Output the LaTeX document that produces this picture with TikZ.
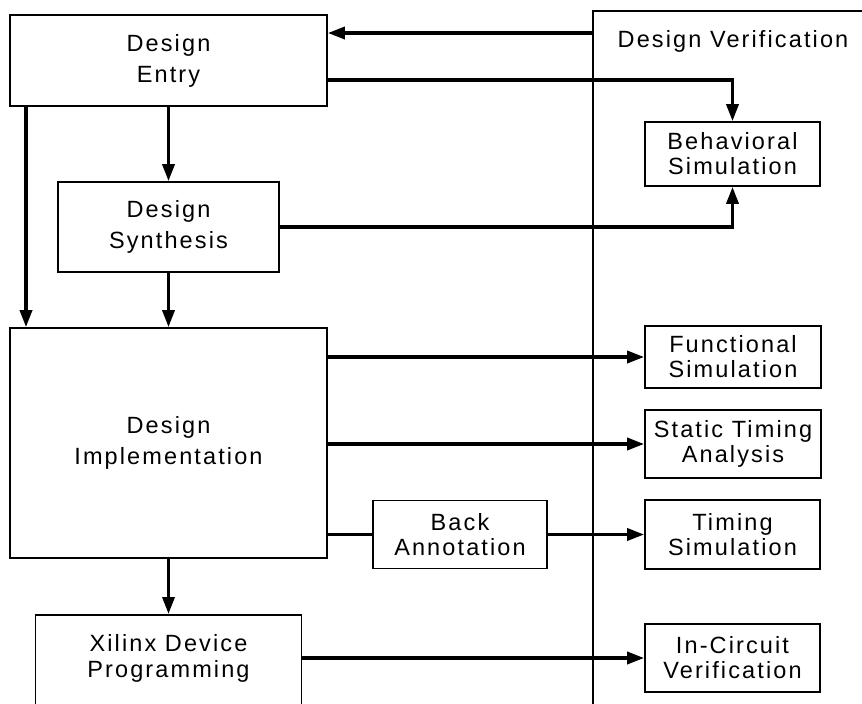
\documentclass[tikz,border=0pt]{standalone}
\usepackage{fontspec}
\setmainfont{Liberation Sans}[LetterSpace=9]
\usetikzlibrary{arrows.meta}
\begin{document}
\begin{tikzpicture}[x=1pt,y=-1pt,
  box/.style={draw, line width=1.7pt, inner sep=0pt, align=center, font=\fontsize{23.5}{25}\selectfont},
  bigbox/.style={box, font=\fontsize{23.5}{31}\selectfont},
  lbl/.style={inner sep=0pt, align=center, font=\fontsize{23.5}{26}\selectfont},
  arr/.style={line width=3.4pt, -{Triangle[length=17pt,width=12pt]}},
  ln/.style={line width=3.4pt}]
\useasboundingbox (0,0) rectangle (862,704);
% Design verification region
\node[draw, line width=1.6pt, minimum width=400, minimum height=800, anchor=north west] (dv) at (592,10) {};
\node[lbl] (dvlabel) at (733,41) {Design Verification};
% left column
\node[bigbox, minimum width=317, minimum height=91] (entry) at (168.5,60.5) {Design\\Entry};
\node[bigbox, minimum width=221, minimum height=90] (synth) at (168.5,227) {Design\\Synthesis};
\node[bigbox, minimum width=317, minimum height=230] (impl) at (168.5,443) {Design\\Implementation};
\node[box, minimum width=266, minimum height=150, anchor=north] (xilinx) at (168.5,614) {};
\node[lbl] (xilinxtext) at (168.5,658) {Xilinx Device\\Programming};
\node[box, minimum width=174, minimum height=68] (back) at (460,534.5) {Back\\Annotation};
% right column
\node[box, minimum width=175, minimum height=64] (behav) at (732.5,154) {Behavioral\\Simulation};
\node[box, minimum width=176, minimum height=62] (func) at (733,357) {Functional\\Simulation};
\node[box, minimum width=176, minimum height=68] (sta) at (733,444) {Static Timing\\Analysis};
\node[box, minimum width=175, minimum height=69] (timing) at (732.5,534.5) {Timing\\Simulation};
\node[box, minimum width=175, minimum height=68] (incirc) at (732.5,658) {In-Circuit\\Verification};
% helper coordinates
\coordinate (dvin) at (592,33);
\coordinate (y80) at (0,80);
\coordinate (x26) at (26,0);
% connectors
\draw[arr] (dvin) -- (dvin -| entry.east);
\draw[arr] (entry.east |- y80) -| (behav.north);
\draw[arr] (entry.south) -- (synth.north);
\draw[arr] (entry.south -| x26) -- (impl.north -| x26);
\draw[arr] (synth.south) -- (impl.north);
\draw[arr] (synth.east) -| (behav.south);
\draw[arr] (impl.east |- func.west) -- (func.west);
\draw[arr] (impl.east |- sta.west) -- (sta.west);
\draw[ln] (impl.east |- back.west) -- (back.west);
\draw[arr] (back.east) -- (timing.west);
\draw[arr] (impl.south) -- (xilinx.north);
\draw[arr] (xilinx.east |- incirc.west) -- (incirc.west);
\end{tikzpicture}
\end{document}
